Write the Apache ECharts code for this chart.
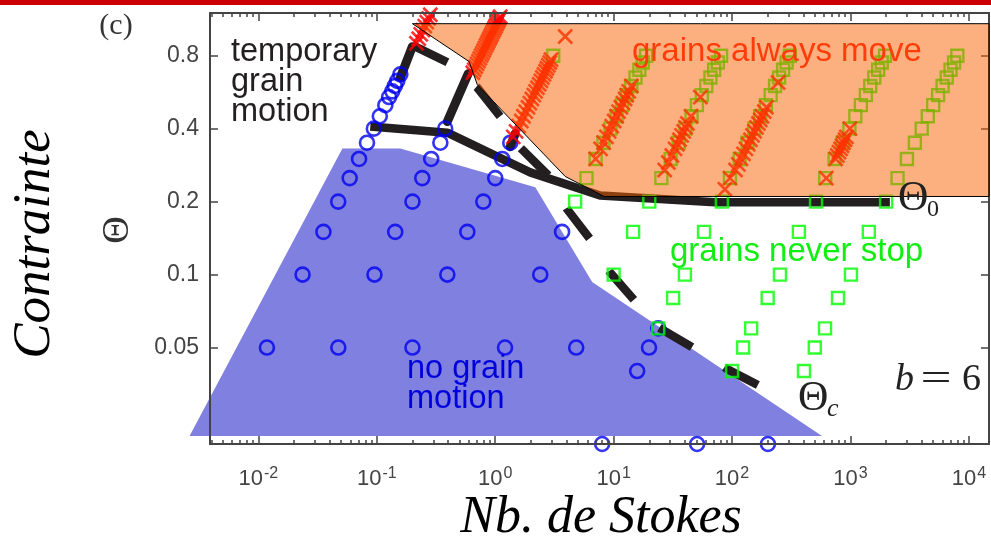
<!DOCTYPE html>
<html><head><meta charset="utf-8">
<script src="https://cdn.jsdelivr.net/npm/echarts@6.0.0/dist/echarts.min.js"></script>
<style>html,body{margin:0;padding:0;background:#fff}#c{width:991px;height:544px}</style>
</head><body><div id="c"></div>
<script>
// ---- axis ranges and ticks ----
const X_MIN = 0.0039, X_MAX = 14800, Y_MIN = 0.02, Y_MAX = 1.2;
const xMajorTicks = [0.01, 0.1, 1, 10, 100, 1000, 10000];
const yTicks = [0.05, 0.1, 0.2, 0.4, 0.8];
const xMinorTicks = [];
for (let k = -3; k <= 4; k++) for (let m = 2; m <= 9; m++) {
  const v = +(m * Math.pow(10, k)).toPrecision(3);
  if (v > X_MIN && v < X_MAX) xMinorTicks.push(v);
}

// ---- regions [St, Theta] ----
const noMotionRegion = [[0.00262,0.0216],[0.0512,0.331],[0.158,0.331],[2.18,0.229],[6.59,0.0931],[575,0.0216]];
const alwaysMoveRegion = [[0.2,1.084],[0.603,0.756],[0.705,0.608],[3.9,0.254],[8.32,0.21],[14800,0.21],[14800,1.084]];

// ---- markers [St, Theta] ----
const noMotionPts = [
  [0.0118,0.05],[0.0236,0.1],[0.0354,0.15],[0.0472,0.2],[0.059,0.25],[0.0708,0.3],[0.0826,0.35],[0.0944,0.4],
  [0.106,0.45],[0.118,0.5],[0.127,0.54],[0.135,0.57],[0.142,0.6],[0.149,0.63],[0.158,0.67],
  [0.0473,0.05],[0.0955,0.1],[0.143,0.15],[0.2,0.2],[0.242,0.25],[0.288,0.3],[0.344,0.35],[0.378,0.4],
  [0.2,0.05],[0.394,0.1],[0.581,0.15],[0.793,0.2],[1.0,0.25],[1.146,0.3],[1.34,0.35],
  [1.21,0.05],[2.4,0.1],[3.67,0.15],
  [4.83,0.05],
  [8.0,0.02],[15.8,0.04],[19.9,0.05],[23.8,0.06],
  [50.7,0.02],
  [201,0.02]
];
const neverStopPts = [
  [4.73,0.2],
  [10,0.1],[14.6,0.15],[20,0.2],
  [23.8,0.06],[31.8,0.08],[40,0.1],[58,0.15],[82,0.2],
  [100,0.04],[124,0.05],[145,0.06],[200,0.08],[254,0.1],[367,0.15],[512,0.2],
  [405,0.04],[500,0.05],[610,0.06],[785,0.08],[1010,0.1],[1430,0.15],[2000,0.2],
  [3.09,0.8],
  [5.9,0.25],[7.05,0.3],[8.2,0.35],[9.4,0.4],[10.6,0.45],[11.8,0.5],[12.9,0.55],[14.1,0.6],[15.3,0.65],[16.5,0.7],[17.6,0.75],[18.8,0.8],
  [25.3,0.25],[30.3,0.3],[35.4,0.35],[40.4,0.4],[45.5,0.45],[50.5,0.5],[55.6,0.55],[60.6,0.6],[65.7,0.65],[70.7,0.7],[75.8,0.75],[80.8,0.8],
  [96,0.25],[116,0.3],[135,0.35],[154,0.4],[173,0.45],[193,0.5],[212,0.55],[231,0.6],[250,0.65],[270,0.7],[289,0.75],[308,0.8],
  [612,0.25],[735,0.3],[858,0.35],[980,0.4],[1100,0.45],[1225,0.5],[1350,0.55],[1470,0.6],[1590,0.65],[1715,0.7],[1840,0.75],[1960,0.8],
  [2500,0.25],[3000,0.3],[3500,0.35],[4000,0.4],[4500,0.45],[5000,0.5],[5500,0.55],[6000,0.6],[6500,0.65],[7000,0.7],[7500,0.75],[8000,0.8]
];
const alwaysMovePts = [
  [0.216,0.9],[0.226,0.94],[0.235,0.98],[0.245,1.02],[0.254,1.06],[0.264,1.1],[0.274,1.14],[0.283,1.18],
  [0.646,0.68],[0.665,0.7],[0.684,0.72],[0.703,0.74],[0.722,0.76],[0.741,0.78],[0.76,0.8],[0.779,0.82],[0.798,0.84],
  [0.817,0.86],[0.836,0.88],[0.855,0.9],[0.874,0.92],[0.893,0.94],[0.912,0.96],[0.931,0.98],[0.95,1.0],[0.969,1.02],
  [0.988,1.04],[1.007,1.06],[1.026,1.08],[1.045,1.1],[1.064,1.12],[1.083,1.14],[1.102,1.16],
  [1.42,0.37],[1.5,0.39],[1.58,0.41],[1.66,0.43],[1.73,0.45],[1.81,0.47],[1.89,0.49],[1.96,0.51],[2.04,0.53],[2.12,0.55],
  [2.19,0.57],[2.27,0.59],[2.35,0.61],[2.43,0.63],[2.5,0.65],[2.58,0.67],[2.66,0.69],[2.73,0.71],[2.81,0.73],[2.89,0.75],[2.96,0.77],[3.9,0.96],
  [7.05,0.3],[7.76,0.33],[8.23,0.35],[8.7,0.37],[9.17,0.39],[9.64,0.41],[10.1,0.43],[10.6,0.45],[11.0,0.47],[11.5,0.49],
  [12.0,0.51],[12.5,0.53],[12.9,0.55],[13.4,0.57],[14.1,0.6],
  [27,0.27],[29,0.29],[31,0.31],[33,0.33],[34.5,0.345],[36,0.36],[37.5,0.375],[39,0.39],[40.5,0.405],[42,0.42],[45,0.45],[54,0.54],
  [87,0.225],[96,0.25],[107,0.27],[113,0.285],[119,0.3],[125,0.315],[131,0.33],[137,0.345],[143,0.36],[149,0.375],
  [155,0.39],[161,0.405],[167,0.42],[173,0.435],[179,0.45],[187,0.47],[195,0.49],[245,0.62],
  [625,0.25],[750,0.3],[775,0.31],[800,0.32],[825,0.33],[850,0.34],[875,0.35],[900,0.36],[925,0.37],[990,0.4]
];

// ---- curves [St, Theta] ----
const theta0Line = [[0.0881,0.408],[0.394,0.385],[1.974,0.264],[7.69,0.212],[71.9,0.1986],[2153,0.1986]];
const thetaCLine = [[0.203,0.88],[0.401,0.749],[0.705,0.591],[1.10,0.449],[1.626,0.334],[2.75,0.259],[4.05,0.186],
  [6.34,0.140],[9.34,0.102],[15.2,0.0777],[23.7,0.0607],[45.9,0.0502],[90.7,0.0408],[165.6,0.035]];
const temporaryBlobs = [
  [[0.158,0.65],[0.1995,0.871]],
  [[0.394,0.428],[0.592,0.675]],
  [[1.34,0.337],[1.476,0.382]]
];

const AX = '#444';
function xAxisDef(pos, ticks, len, showLine, showLabel) {
  return {
    type: 'log', logBase: 10, min: X_MIN, max: X_MAX, position: pos, z: 10,
    axisLine: {show: showLine, onZero: false, lineStyle: {color: AX, width: 2}},
    axisTick: {show: true, inside: true, length: len, customValues: ticks, lineStyle: {color: AX, width: 1.5}},
    axisLabel: showLabel ? {
      customValues: ticks, margin: 22,
      formatter: v => '{b|10}{s|' + Math.round(Math.log10(v)) + '}',
      rich: {
        b: {fontSize: 22, fontFamily: 'Liberation Sans', color: AX, lineHeight: 26},
        s: {fontSize: 16, fontFamily: 'Liberation Sans', color: AX, lineHeight: 9, verticalAlign: 'top', padding: [0, 0, 0, 1]}
      }
    } : {show: false},
    splitLine: {show: false}, minorTick: {show: false}, minorSplitLine: {show: false}
  };
}
function yAxisDef(pos, showLabel, z) {
  return {
    type: 'log', logBase: 10, min: Y_MIN, max: Y_MAX, position: pos, z: z,
    axisLine: {show: true, onZero: false, lineStyle: {color: AX, width: 2}},
    axisTick: {show: true, inside: true, length: 8, customValues: yTicks, lineStyle: {color: AX, width: 1.5}},
    axisLabel: showLabel ? {customValues: yTicks, margin: 11, fontSize: 23, fontFamily: 'Liberation Sans', color: AX,
      formatter: v => String(v)} : {show: false},
    splitLine: {show: false}, minorTick: {show: false}
  };
}
function polygonSeries(points, style, z) {
  return {
    type: 'custom', coordinateSystem: 'cartesian2d', clip: false, z: z, silent: true,
    data: points, encode: {x: 0, y: 1},
    renderItem: function (params, api) {
      if (params.dataIndex !== 0) return null;
      return {type: 'polygon', shape: {points: points.map(p => api.coord(p))}, style: style};
    }
  };
}
const series = [
  polygonSeries(noMotionRegion, {fill: '#8080e0'}, 1),
  {type: 'scatter', data: noMotionPts, symbol: 'circle', symbolSize: 14, clip: false, z: 2, silent: true,
    itemStyle: {color: 'rgba(0,0,0,0)', borderColor: '#0000f0', borderWidth: 2.6}},
  {type: 'scatter', data: neverStopPts, symbol: 'rect', symbolSize: 12, clip: false, z: 2, silent: true,
    itemStyle: {color: 'rgba(0,0,0,0)', borderColor: '#00ff00', borderWidth: 2.4}},
  {type: 'scatter', data: alwaysMovePts, symbol: 'path://M0,0L10,10M10,0L0,10', symbolSize: 14, clip: false, z: 2, silent: true,
    itemStyle: {color: 'rgba(0,0,0,0)', borderColor: '#ff0000', borderWidth: 2.6}},
  {type: 'line', data: theta0Line, symbol: 'none', z: 2, silent: true,
    lineStyle: {color: '#231f20', width: 8.5, cap: 'butt', join: 'round'}},
  {type: 'line', data: thetaCLine, symbol: 'none', z: 2, silent: true,
    lineStyle: {color: '#231f20', width: 8.5, type: [38, 38], cap: 'butt', join: 'miter'}}
].concat(temporaryBlobs.map(seg => ({
  type: 'line', data: seg, symbol: 'none', z: 2, silent: true,
  lineStyle: {color: '#231f20', width: 9, cap: 'round'}
}))).concat([
  polygonSeries(alwaysMoveRegion, {fill: 'rgba(251,97,0,0.5)', stroke: '#000', lineWidth: 1}, 3)
]);

const SERIF = 'Liberation Serif', SANS = 'Liberation Sans';
function txt(x, y, text, font, extra) {
  return Object.assign({type: 'text', x: x, y: y, z: 100, silent: true,
    style: {text: text, fontFamily: font.family, fontSize: font.size, fontStyle: font.style || 'normal',
      fill: font.color || '#111', align: font.align || 'left', verticalAlign: font.va || 'middle', lineHeight: font.lh}}, extra || {});
}
const graphic = [
  {type: 'rect', shape: {x: 0, y: 0, width: 991, height: 5}, style: {fill: '#cc0000'}, z: 100},
  txt(116, 26, '(c)', {family: SERIF, size: 30, align: 'center', color: '#333'}),
  txt(35, 244, 'Contrainte', {family: SERIF, size: 53, style: 'italic', align: 'center', color: '#000'}, {rotation: Math.PI / 2}),
  txt(118, 230, 'Θ', {family: SERIF, size: 38, align: 'center', color: '#333'}, {rotation: Math.PI / 2}),
  txt(601, 518, 'Nb. de Stokes', {family: SERIF, size: 52, style: 'italic', align: 'center', color: '#000'}),
  txt(231, 37, 'temporary\ngrain\nmotion', {family: SANS, size: 32.5, va: 'top', lh: 30, color: '#231f20'}),
  txt(632, 52, 'grains always move', {family: SANS, size: 33, color: '#ff3c0a'}),
  txt(670, 252, 'grains never stop', {family: SANS, size: 33, color: '#11ee11'}),
  txt(407, 354, 'no grain\nmotion', {family: SANS, size: 32.5, va: 'top', lh: 30, color: '#0000dd'}),
  txt(898, 199, 'Θ', {family: SERIF, size: 42, color: '#222'}),
  txt(927, 210, '0', {family: SERIF, size: 24, color: '#222'}),
  txt(798, 399, 'Θ', {family: SERIF, size: 42, color: '#222'}),
  txt(827, 409, 'c', {family: SERIF, size: 26, style: 'italic', color: '#222'}),
  txt(895, 380, 'b', {family: SERIF, size: 38, style: 'italic', color: '#222'}),
  txt(936, 380, '=', {family: SERIF, size: 38, align: 'center', color: '#222'}, {scaleX: 1.45}),
  txt(962, 380, '6', {family: SERIF, size: 38, color: '#222'})
];

const chart = echarts.init(document.getElementById('c'), null, {renderer: 'canvas'});
chart.setOption({
  animation: false,
  backgroundColor: '#fff',
  grid: {left: 210, right: 2, top: 13, bottom: 100, containLabel: false},
  xAxis: [xAxisDef('bottom', xMajorTicks, 8, true, true), xAxisDef('bottom', xMinorTicks, 4, false, false),
          xAxisDef('top', xMajorTicks, 8, true, false), xAxisDef('top', xMinorTicks, 4, false, false)],
  yAxis: [yAxisDef('left', true, 10), yAxisDef('right', false, 0)],
  series: series,
  graphic: graphic
});
</script></body></html>
